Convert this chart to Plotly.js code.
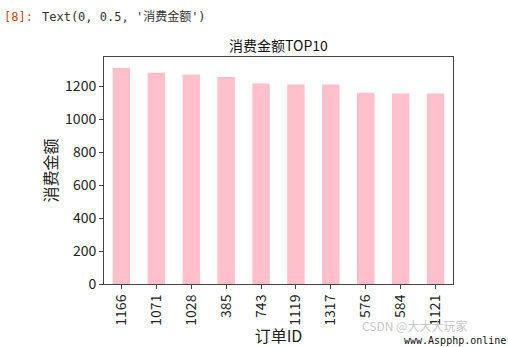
<!DOCTYPE html>
<html><head><meta charset="utf-8">
<script src="https://cdn.plot.ly/plotly-3.0.1.min.js"></script>
<style>html,body{margin:0;padding:0;background:#fff;}#chart{width:508px;height:347px;}</style>
</head><body><div id="chart"></div>
<script>
const orderIds = ['1166','1071','1028','385','743','1119','1317','576','584','1121'];
const amounts = [1310, 1280, 1270, 1255, 1215, 1210, 1210, 1160, 1155, 1155];
const yTicks = [0, 200, 400, 600, 800, 1000, 1200];

const cjk = '"Noto Sans CJK SC", "Noto Sans", sans-serif';
const mono = '"DejaVu Sans Mono", "Noto Sans CJK SC", monospace';
const px = v => (v - 104) / 349;      // pixel x -> paper x
const py = v => (284 - v) / 227;      // pixel y -> paper y
const trace = {
  type: 'bar', x: orderIds, y: amounts,
  marker: {color: '#ffc0cb', line: {width: 0}},
  width: 0.5, hoverinfo: 'x+y'
};
const layout = {
  width: 508, height: 347,
  margin: {l: 104, r: 55, t: 57, b: 63},
  paper_bgcolor: '#fff', plot_bgcolor: '#fff',
  showlegend: false,
  font: {family: cjk, color: '#222', size: 14},
  title: {text: '消费金额TOP10', font: {family: cjk, size: 14, color: '#111'},
          x: 0.5, xref: 'paper', xanchor: 'center', y: 1 - 46/347, yref: 'container', yanchor: 'middle'},
  xaxis: {type: 'category', range: [-0.5, 9.5], tickangle: -90,
          showline: true, linecolor: '#444', linewidth: 1, mirror: true,
          ticks: 'outside', ticklen: 4, tickcolor: '#444', showgrid: false, zeroline: false,
          tickfont: {family: cjk, size: 14, color: '#222'},
          title: {text: '订单ID', font: {family: cjk, size: 16, color: '#222'}, standoff: 4}},
  yaxis: {range: [0, 1376], tickvals: yTicks, ticktext: yTicks.map(String),
          showline: true, linecolor: '#444', linewidth: 1, mirror: true,
          ticks: 'outside', ticklen: 4, tickcolor: '#444', showgrid: false, zeroline: false,
          tickfont: {family: cjk, size: 14, color: '#222'},
          title: {text: '消费金额', font: {family: cjk, size: 16, color: '#222'}, standoff: 3}},
  annotations: [
    {text: '[8]:', xref: 'paper', yref: 'paper', x: px(2), y: py(17), xanchor: 'left', yanchor: 'middle',
     showarrow: false, font: {family: mono, size: 12, color: '#d84315'}},
    {text: "Text(0, 0.5, '消费金额')", xref: 'paper', yref: 'paper', x: px(40), y: py(17), xanchor: 'left', yanchor: 'middle',
     showarrow: false, font: {family: mono, size: 12, color: '#333'}},
    {text: 'CSDN @大大大玩家', xref: 'paper', yref: 'paper', x: px(360), y: py(325), xanchor: 'left', yanchor: 'middle',
     showarrow: false, font: {family: cjk, size: 12, color: '#c8c8c8'}},
    {text: 'www.Aspphp.online', xref: 'paper', yref: 'paper', x: px(508), y: py(340), xanchor: 'right', yanchor: 'middle',
     showarrow: false, font: {family: mono, size: 10, color: '#111'}}
  ]
};
Plotly.newPlot('chart', [trace], layout, {displayModeBar: false, staticPlot: true});
</script></body></html>
